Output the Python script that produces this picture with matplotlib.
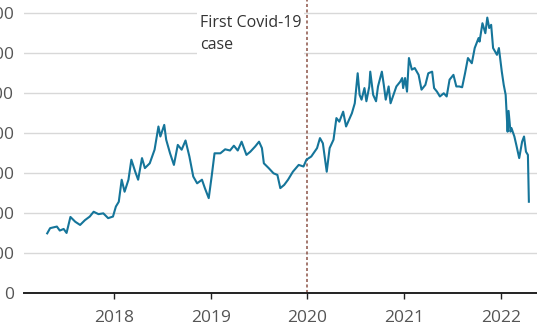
import matplotlib.pyplot as plt

# decimal years and index values
years = [
    2017.31, 2017.34, 2017.41, 2017.44, 2017.48, 2017.51, 2017.55, 2017.60, 2017.65, 2017.70,
    2017.75, 2017.79, 2017.84, 2017.89, 2017.94, 2017.99, 2018.02, 2018.05, 2018.08, 2018.11,
    2018.15, 2018.18, 2018.22, 2018.25, 2018.29, 2018.32, 2018.37, 2018.42, 2018.46, 2018.48,
    2018.52, 2018.54, 2018.58, 2018.62, 2018.66, 2018.70, 2018.74, 2018.78, 2018.82, 2018.86,
    2018.91, 2018.94, 2018.98, 2019.01, 2019.04, 2019.10, 2019.15, 2019.20, 2019.24, 2019.28,
    2019.32, 2019.37, 2019.41, 2019.46, 2019.50, 2019.53, 2019.55, 2019.60, 2019.65, 2019.69,
    2019.72, 2019.76, 2019.80, 2019.85, 2019.91, 2019.96, 2019.99, 2020.04, 2020.10, 2020.13,
    2020.16, 2020.20, 2020.23, 2020.27, 2020.30, 2020.33, 2020.37, 2020.40, 2020.46, 2020.49,
    2020.52, 2020.54, 2020.56, 2020.59, 2020.61, 2020.64, 2020.65, 2020.68, 2020.71, 2020.73,
    2020.77, 2020.79, 2020.81, 2020.84, 2020.86, 2020.89, 2020.92, 2020.96, 2020.98, 2020.99,
    2021.01, 2021.03, 2021.05, 2021.08, 2021.11, 2021.15, 2021.18, 2021.22, 2021.25, 2021.29,
    2021.31, 2021.34, 2021.37, 2021.41, 2021.44, 2021.47, 2021.51, 2021.54, 2021.57, 2021.60,
    2021.63, 2021.66, 2021.70, 2021.73, 2021.77, 2021.78, 2021.81, 2021.84, 2021.86, 2021.88,
    2021.90, 2021.92, 2021.96, 2021.98, 2022.01, 2022.03, 2022.05, 2022.07, 2022.08, 2022.10,
    2022.11, 2022.14, 2022.16, 2022.19, 2022.22, 2022.24, 2022.26, 2022.28, 2022.29,
]
values = [
    149, 162, 166, 156, 160, 150, 190, 178, 170, 182,
    191, 203, 197, 199, 187, 191, 216, 228, 283, 253,
    283, 333, 303, 283, 337, 312, 324, 358, 416, 391,
    420, 383, 349, 320, 370, 358, 381, 341, 291, 274,
    283, 262, 237, 291, 349, 349, 359, 356, 368, 356,
    378, 345, 353, 366, 378, 362, 324, 312, 299, 295,
    262, 270, 283, 303, 320, 316, 333, 341, 362, 387,
    374, 303, 362, 383, 437, 428, 453, 416, 449, 474,
    549, 495, 483, 512, 479, 516, 553, 495, 479, 516,
    553, 520, 483, 516, 474, 495, 516, 528, 537, 512,
    537, 503, 587, 558, 562, 545, 508, 520, 549, 553,
    512, 503, 491, 499, 491, 533, 545, 516, 516, 514,
    549, 587, 574, 612, 637, 628, 674, 649, 688, 662,
    670, 612, 595, 612, 553, 520, 495, 403, 455, 403,
    412, 391, 370, 337, 378, 391, 353, 345, 228,
]
y_ticks = [0, 100, 200, 300, 400, 500, 600, 700]
x_ticks = [2018, 2019, 2020, 2021, 2022]
covid_date = 2019.997

plt.rcParams['font.family'] = ['Open Sans', 'DejaVu Sans']

fig = plt.figure(figsize=(5.37, 3.29), dpi=100)
ax = fig.add_axes([24 / 537, 36 / 329, 1 - 24 / 537, 1 - 36 / 329])

ax.plot(years, values, color='#15759a', linewidth=1.5, zorder=3)
ax.axvline(covid_date, color='#8c5448', linestyle=(0, (2, 1.6)), linewidth=1.1, zorder=2)
ax.text(covid_date - 0.06, 694, "First Covid-19\ncase", ha='right', va='top',
        multialignment='left', fontsize=11.5, color='#333333', linespacing=1.45,
        bbox=dict(facecolor='white', edgecolor='none', pad=2), zorder=4)

ax.set_xlim(2017.07, 2022.374)
ax.set_ylim(0, 732)
ax.set_yticks(y_ticks)
ax.set_yticklabels([str(v) for v in y_ticks])
ax.set_xticks(x_ticks)
ax.set_xticklabels([str(v) for v in x_ticks])
ax.grid(axis='y', color='#d8d8d8', linewidth=1)
ax.set_axisbelow(True)

for s in ['top', 'right', 'left']:
    ax.spines[s].set_visible(False)
ax.spines['bottom'].set_color('#222222')
ax.spines['bottom'].set_linewidth(1.4)
ax.tick_params(axis='y', length=0, pad=7, labelsize=12.5, labelcolor='#555555')
ax.tick_params(axis='x', length=4, width=1, color='#222222', pad=8,
               labelsize=12.5, labelcolor='#555555')

fig.savefig('out.png', dpi=100)
